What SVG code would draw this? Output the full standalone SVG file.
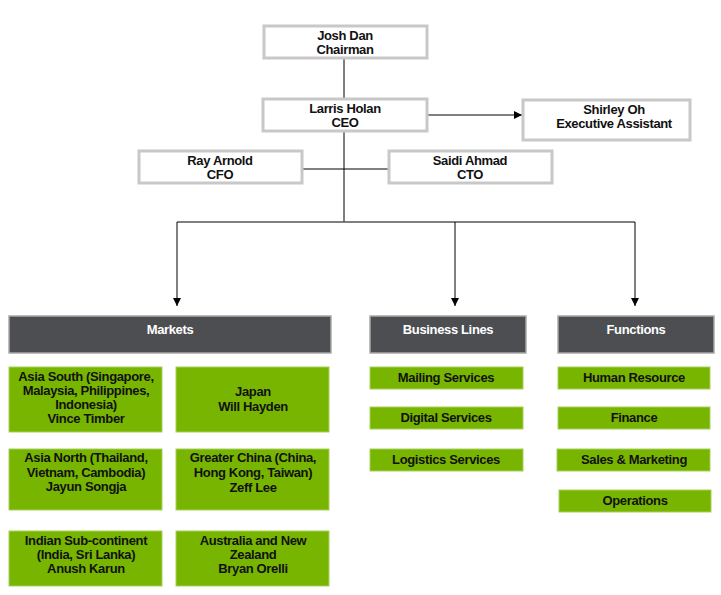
<svg xmlns="http://www.w3.org/2000/svg" width="721" height="595" viewBox="0 0 721 595">
<defs>
<marker id="arr" viewBox="0 0 10 10" refX="10" refY="5" markerWidth="8" markerHeight="8" markerUnits="userSpaceOnUse" orient="auto">
<path d="M0,0 L10,5 L0,10 z" fill="#000"/>
</marker>
<style>
text{font-family:"Liberation Sans",Arial,sans-serif;font-weight:bold;font-size:13px;text-anchor:middle;letter-spacing:-0.35px}
.w{fill:#fff;stroke:#c8c8c8;stroke-width:3}
.d{fill:#4d4e52;stroke:#a9a9a9;stroke-width:1.5}
.g{fill:#78b500;stroke:#a6d15a;stroke-width:1}
.dt{fill:#fff}
.t{fill:#111}
.c{fill:none;stroke:#000;stroke-width:1}
.cg{fill:none;stroke:#555;stroke-width:1.5}
</style>
</defs>
<g id="connectors">
<path class="c" d="M344,59 V98"/>
<path class="c" d="M344,132 V222"/>
<path class="c" d="M302,169 H388"/>
<path class="c" d="M427,115 H522" marker-end="url(#arr)"/>
<path class="cg" d="M177,222 H635"/>
<path class="c" d="M177,222 V306" marker-end="url(#arr)"/>
<path class="c" d="M455,222 V306" marker-end="url(#arr)"/>
<path class="c" d="M635,222 V306" marker-end="url(#arr)"/>
</g>
<g id="chairman"><rect class="w" x="264" y="26" width="163" height="32"/><text class="t" x="345" y="40">Josh Dan</text><text class="t" x="345" y="54">Chairman</text></g>
<g id="ceo"><rect class="w" x="263" y="99" width="164" height="32"/><text class="t" x="345" y="113">Larris Holan</text><text class="t" x="345" y="127">CEO</text></g>
<g id="ea"><rect class="w" x="523" y="100" width="167" height="40"/><text class="t" x="614" y="114">Shirley Oh</text><text class="t" x="614" y="128">Executive Assistant</text></g>
<g id="cfo"><rect class="w" x="139" y="151" width="163" height="32"/><text class="t" x="220" y="165">Ray Arnold</text><text class="t" x="220" y="179">CFO</text></g>
<g id="cto"><rect class="w" x="389" y="151" width="163" height="32"/><text class="t" x="470" y="165">Saidi Ahmad</text><text class="t" x="470" y="179">CTO</text></g>

<g id="markets"><rect class="d" x="9" y="316" width="322" height="37"/><text class="dt" x="170" y="334">Markets</text></g>
<g id="business-lines"><rect class="d" x="370" y="316" width="156" height="37"/><text class="dt" x="448" y="334">Business Lines</text></g>
<g id="functions"><rect class="d" x="558" y="316" width="156" height="37"/><text class="dt" x="636" y="334">Functions</text></g>

<g id="asia-south"><rect class="g" x="9" y="367" width="153" height="65"/><text class="t" x="86" y="381">Asia South (Singapore,</text><text class="t" x="86" y="395">Malaysia, Philippines,</text><text class="t" x="86" y="409">Indonesia)</text><text class="t" x="86" y="423">Vince Timber</text></g>
<g id="japan"><rect class="g" x="176" y="367" width="153" height="65"/><text class="t" x="253" y="396">Japan</text><text class="t" x="253" y="411">Will Hayden</text></g>
<g id="asia-north"><rect class="g" x="9" y="449" width="153" height="61"/><text class="t" x="86" y="462">Asia North (Thailand,</text><text class="t" x="86" y="477">Vietnam, Cambodia)</text><text class="t" x="86" y="491">Jayun Songja</text></g>
<g id="greater-china"><rect class="g" x="176" y="449" width="153" height="61"/><text class="t" x="253" y="462">Greater China (China,</text><text class="t" x="253" y="477">Hong Kong, Taiwan)</text><text class="t" x="253" y="492">Zeff Lee</text></g>
<g id="indian"><rect class="g" x="9" y="531" width="153" height="55"/><text class="t" x="86" y="545">Indian Sub-continent</text><text class="t" x="86" y="559">(India, Sri Lanka)</text><text class="t" x="86" y="573">Anush Karun</text></g>
<g id="australia"><rect class="g" x="176" y="531" width="153" height="55"/><text class="t" x="253" y="545">Australia and New</text><text class="t" x="253" y="559">Zealand</text><text class="t" x="253" y="573">Bryan Orelli</text></g>

<g id="mailing"><rect class="g" x="370" y="367" width="153" height="22"/><text class="t" x="446" y="382">Mailing Services</text></g>
<g id="digital"><rect class="g" x="370" y="407" width="153" height="22"/><text class="t" x="446" y="422">Digital Services</text></g>
<g id="logistics"><rect class="g" x="370" y="449" width="153" height="22"/><text class="t" x="446" y="464">Logistics Services</text></g>

<g id="hr"><rect class="g" x="558" y="367" width="152" height="22"/><text class="t" x="634" y="382">Human Resource</text></g>
<g id="finance"><rect class="g" x="558" y="407" width="152" height="22"/><text class="t" x="634" y="422">Finance</text></g>
<g id="sales"><rect class="g" x="557" y="449" width="153" height="22"/><text class="t" x="634" y="464">Sales &amp; Marketing</text></g>
<g id="operations"><rect class="g" x="559" y="490" width="152" height="22"/><text class="t" x="635" y="505">Operations</text></g>
</svg>
